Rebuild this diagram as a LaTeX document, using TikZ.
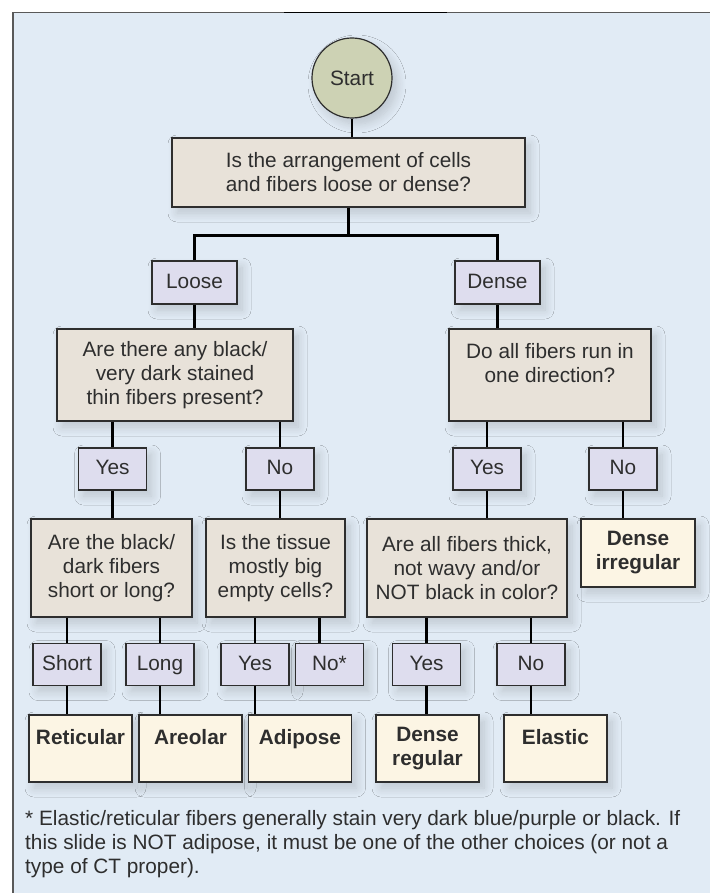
\documentclass[tikz,border=0pt]{standalone}
\usepackage{fontspec}
\setmainfont{Liberation Sans}
\usetikzlibrary{calc, shadows.blur}

\definecolor{panel}{HTML}{E1EBF5}
\definecolor{startfill}{HTML}{CDD2B4}
\definecolor{askfill}{HTML}{E8E2D9}
\definecolor{ansfill}{HTML}{DEDDEE}
\definecolor{endfill}{HTML}{FCF5E4}
\definecolor{ink}{HTML}{2E2E2E}

\begin{document}
\begin{tikzpicture}[x=1pt, y=-1pt,
  every node/.style={font=\fontsize{20.8}{24}\selectfont, text=ink},
  box/.style={draw=ink, line width=1.2pt, align=center, inner sep=0pt,
    blur shadow={shadow xshift=5pt, shadow yshift=-6pt, shadow opacity=16,
      shadow blur radius=9pt, shadow blur steps=12}},
  ask/.style={box, fill=askfill},
  ans/.style={box, fill=ansfill, minimum width=68pt, minimum height=42pt,
    text height=15pt, text depth=4pt},
  leaf/.style={box, fill=endfill, minimum width=103pt, minimum height=67pt,
    font=\fontsize{20.8}{24}\selectfont\bfseries},
  link/.style={line width=2.8pt, black}]
  \useasboundingbox (0,0) rectangle (710,893);

  % 底板
  \fill[panel] (13,12.7) rectangle (710,893);
  \draw[gray!70!black, line width=1.5pt] (13,893) -- (13,12.7) -- (710,12.7);
  \draw[black, line width=1.5pt] (284,12.7) -- (447,12.7);

  % 开始与第一问
  \node[box, circle, fill=startfill, minimum size=80pt] (start) at (352,78) {Start};
  \node[ask, minimum width=353pt, minimum height=69pt] (q1) at (348.5,172.5)
    {Is the arrangement of cells\\and fibers loose or dense?};
  \node[ans, minimum width=85pt, minimum height=43pt] (loose) at (194.5,282.5) {Loose};
  \node[ans, minimum width=85pt, minimum height=43pt] (dense) at (497.5,282.5) {Dense};

  % 第二层问题
  \node[ask, minimum width=236pt, minimum height=92pt] (q2l) at (175,375)
    {Are there any black/\\very dark stained\\thin fibers present?};
  \node[ask, minimum width=202pt, minimum height=92pt] (q2r) at (550,375)
    {Do all fibers run in\\one direction?\\\mbox{}};
  \node[ans] (yes1) at (112.5,469) {Yes};
  \node[ans] (no1) at (280,469) {No};
  \node[ans] (yes2) at (487,469) {Yes};
  \node[ans] (no2) at (623,469) {No};

  % 第三层问题
  \node[ask, minimum width=161pt, minimum height=98pt] (q3a) at (111.5,568)
    {Are the black/\\dark fibers\\short or long?};
  \node[ask, minimum width=139pt, minimum height=98pt] (q3b) at (275.5,568)
    {Is the tissue\\mostly big\\empty cells?};
  \node[ask, minimum width=200pt, minimum height=98pt] (q3c) at (467,568)
    {Are all fibers thick,\\not wavy and/or\\NOT black in color?};
  \node[leaf, minimum width=114pt, minimum height=68pt] (dirr) at (638,553) {Dense\\irregular};

  \node[ans] (short) at (67,664.5) {Short};
  \node[ans] (long) at (160,664.5) {Long};
  \node[ans] (yes3) at (255,664.5) {Yes};
  \node[ans] (nostar) at (329.5,664.5) {No*};
  \node[ans] (yes4) at (426.5,664.5) {Yes};
  \node[ans] (no4) at (531,664.5) {No};

  % 结果
  \node[leaf] (reticular) at (80.5,748.5) {Reticular\\\mbox{}};
  \node[leaf] (areolar) at (190.5,748.5) {Areolar\\\mbox{}};
  \node[leaf] (adipose) at (300,748.5) {Adipose\\\mbox{}};
  \node[leaf] (dreg) at (427.5,748.5) {Dense\\regular};
  \node[leaf] (elastic) at (555.5,748.5) {Elastic\\\mbox{}};

  % 连线
  \coordinate (bus) at ($(q1.south)+(0,28)$);
  \draw[link] (start.south) -- (start.south |- q1.north);
  \draw[link] (q1.south) -- (bus);
  \draw[link] (loose.north) |- (bus) -| (dense.north);
  \foreach \a/\b in {loose/q2l, dense/q2r, yes1/q3a, no1/q3b, yes2/q3c, no2/dirr,
                     short/reticular, long/areolar, yes3/adipose, yes4/dreg, no4/elastic}
    \draw[link] (\a.south) -- (\a.south |- \b.north);
  \foreach \a/\b in {q2l/yes1, q2l/no1, q2r/yes2, q2r/no2, q3a/short, q3a/long,
                     q3b/yes3, q3c/yes4, q3c/no4}
    \draw[link] (\a.south -| \b.north) -- (\b.north);
  \draw[link] ([xshift=-10pt]q3b.south -| nostar.north) -- ([xshift=-10pt]nostar.north);

  % 注
  \node[anchor=north west, align=left, inner sep=0pt] (note) at (25,810)
    {* Elastic/reticular fibers generally stain very dark blue/purple or black. If\\
     this slide is NOT adipose, it must be one of the other choices (or not a\\
     type of CT proper).};
\end{tikzpicture}
\end{document}
